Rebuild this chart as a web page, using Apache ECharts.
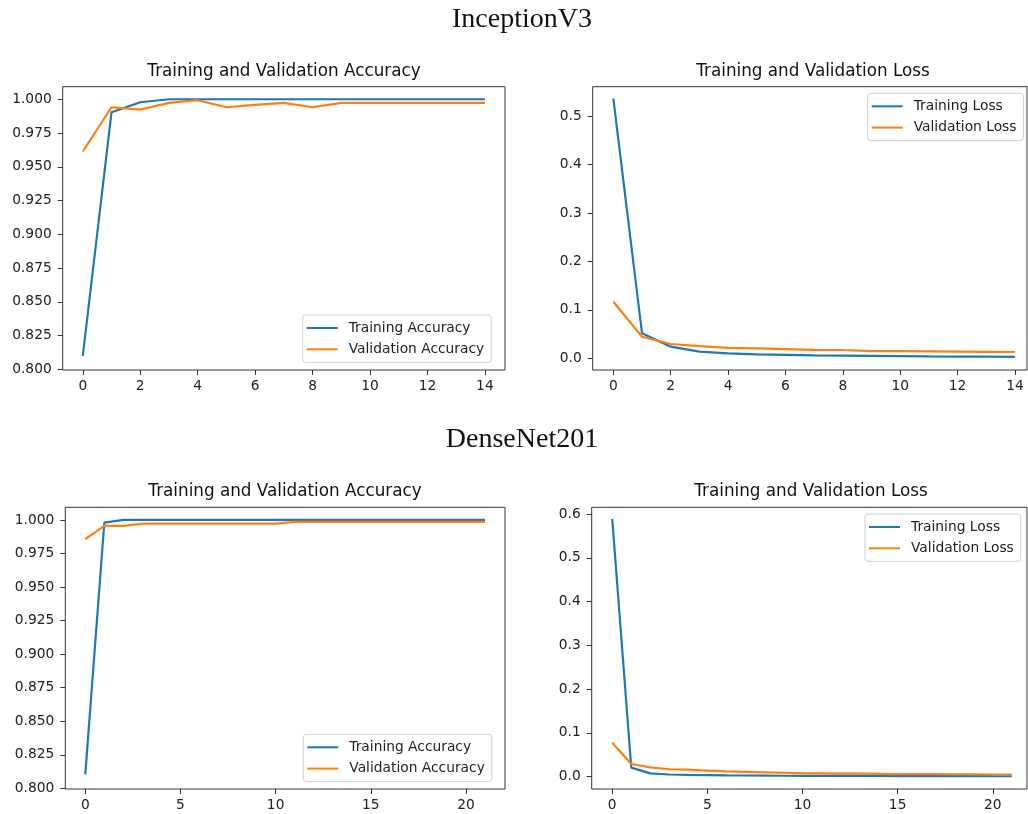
<!DOCTYPE html>
<html>
<head>
<meta charset="utf-8">
<script src="https://cdn.jsdelivr.net/npm/echarts@6/dist/echarts.min.js"></script>
<style>html,body{margin:0;padding:0;background:#fff;}#c{width:1028px;height:814px;}</style>
</head>
<body>
<div id="c"></div>
<script>
// ---- Data ----
const panelTitles = ['InceptionV3', 'DenseNet201'];
const accTitle = 'Training and Validation Accuracy';
const lossTitle = 'Training and Validation Loss';

const incTrainAcc = [0.810, 0.9904, 0.9978, 1.000, 1.000, 1.000, 1.000, 1.000, 1.000, 1.000, 1.000, 1.000, 1.000, 1.000, 1.000];
const incValAcc   = [0.9613, 0.9941, 0.9923, 0.9973, 0.9993, 0.9941, 0.9958, 0.9973, 0.9941, 0.9973, 0.9973, 0.9973, 0.9973, 0.9973, 0.9973];
const incTrainLoss = [0.536, 0.0516, 0.024, 0.0137, 0.0103, 0.008, 0.007, 0.006, 0.0055, 0.005, 0.0045, 0.004, 0.0037, 0.0034, 0.003];
const incValLoss   = [0.1168, 0.0446, 0.0295, 0.025, 0.0216, 0.0205, 0.019, 0.0175, 0.0172, 0.015, 0.015, 0.0145, 0.014, 0.0135, 0.013];

const denTrainAcc = [0.8104, 0.998, 1.000, 1.000, 1.000, 1.000, 1.000, 1.000, 1.000, 1.000, 1.000, 1.000, 1.000, 1.000, 1.000, 1.000, 1.000, 1.000, 1.000, 1.000, 1.000, 1.000];
const denValAcc   = [0.9857, 0.9956, 0.9956, 0.9973, 0.9973, 0.9973, 0.9973, 0.9973, 0.9973, 0.9973, 0.9973, 0.9986, 0.9986, 0.9986, 0.9986, 0.9986, 0.9986, 0.9986, 0.9986, 0.9986, 0.9986, 0.9986];
const denTrainLoss = [0.5886, 0.0206, 0.0076, 0.005, 0.004, 0.0035, 0.003, 0.0027, 0.0025, 0.0022, 0.002, 0.0019, 0.0018, 0.0017, 0.0016, 0.0015, 0.0014, 0.0013, 0.0012, 0.0011, 0.001, 0.001];
const denValLoss   = [0.0777, 0.029, 0.0214, 0.017, 0.016, 0.014, 0.012, 0.011, 0.010, 0.009, 0.008, 0.0075, 0.007, 0.0068, 0.0065, 0.006, 0.006, 0.0058, 0.0055, 0.0055, 0.005, 0.005];

const accTicks = [0.800, 0.825, 0.850, 0.875, 0.900, 0.925, 0.950, 0.975, 1.000];
const incLossTicks = [0.0, 0.1, 0.2, 0.3, 0.4, 0.5];
const denLossTicks = [0.0, 0.1, 0.2, 0.3, 0.4, 0.5, 0.6];
const incEpochTicks = [0, 2, 4, 6, 8, 10, 12, 14];
const denEpochTicks = [0, 5, 10, 15, 20];

// ---- Chart ----
const BLUE = '#1f77b4', ORANGE = '#ff7f0e';
const FONT = 'DejaVu Sans';
const TXT = '#222';
const pts = arr => arr.map((v, i) => [i, v]);

const grids = [
  {left: 62.7, top: 86.7, width: 442.3, height: 283.3},
  {left: 592.7, top: 86.7, width: 434.3, height: 283.3},
  {left: 65.3, top: 507.3, width: 439.7, height: 281.7},
  {left: 591.7, top: 507.3, width: 435.3, height: 281.7}
].map(g => Object.assign(g, {show: true, borderColor: '#333', borderWidth: 1, backgroundColor: 'transparent', containLabel: false}));

function xAxis(idx, min, max, ticks) {
  return {
    type: 'value', gridIndex: idx, min: min, max: max, position: 'bottom',
    axisLine: {show: false, onZero: false},
    splitLine: {show: false},
    axisTick: {show: true, length: 5, lineStyle: {color: '#333', width: 1}, customValues: ticks},
    axisLabel: {customValues: ticks, margin: 9, color: TXT, fontFamily: FONT, fontSize: 13.8, formatter: v => String(v)}
  };
}
function yAxis(idx, min, max, ticks, dec) {
  return {
    type: 'value', gridIndex: idx, min: min, max: max, position: 'left',
    axisLine: {show: false, onZero: false},
    splitLine: {show: false},
    axisTick: {show: true, length: 5, lineStyle: {color: '#333', width: 1}, customValues: ticks},
    axisLabel: {customValues: ticks, margin: 11, color: TXT, fontFamily: FONT, fontSize: 13.8, formatter: v => v.toFixed(dec)}
  };
}
function line(name, idx, data, color) {
  return {
    type: 'line', name: name, xAxisIndex: idx, yAxisIndex: idx,
    data: pts(data), symbol: 'none', showSymbol: false,
    lineStyle: {color: color, width: 2.2}, itemStyle: {color: color},
    emphasis: {disabled: true}, animation: false
  };
}
function legend(names, left, top) {
  return {
    data: names, orient: 'vertical', left: left, top: top,
    icon: 'rect', itemWidth: 31, itemHeight: 2, itemGap: 5.3,
    padding: [5, 7, 5, 4],
    borderColor: '#d0d0d0', borderWidth: 1, borderRadius: 3,
    backgroundColor: 'rgba(255,255,255,0.8)',
    selectedMode: false,
    textStyle: {fontFamily: FONT, fontSize: 13.8, color: TXT, lineHeight: 16, padding: [0, 0, 0, 6]}
  };
}
function txt(str, x, y, size, family) {
  return {type: 'text', x: x, y: y, style: {text: str, fill: '#111', font: size + 'px "' + family + '"', textAlign: 'center', textVerticalAlign: 'middle'}, z: 100};
}

const option = {
  backgroundColor: '#fff',
  animation: false,
  grid: grids,
  xAxis: [
    xAxis(0, -0.7, 14.7, incEpochTicks),
    xAxis(1, -0.72, 14.42, incEpochTicks),
    xAxis(2, -1.05, 22.05, denEpochTicks),
    xAxis(3, -1.08, 21.8, denEpochTicks)
  ],
  yAxis: [
    yAxis(0, 0.7995, 1.0093, accTicks, 3),
    yAxis(1, -0.0241, 0.5605, incLossTicks, 1),
    yAxis(2, 0.7995, 1.0094, accTicks, 3),
    yAxis(3, -0.0281, 0.6153, denLossTicks, 1)
  ],
  legend: [
    legend(['Training Accuracy', 'Validation Accuracy'], 302.7, 315),
    legend(['Training Loss', 'Validation Loss'], 867.7, 93.3),
    legend(['Training Accuracy', 'Validation Accuracy'], 303.3, 734.3),
    legend(['Training Loss', 'Validation Loss'], 865, 514)
  ],
  series: [
    line('Training Accuracy', 0, incTrainAcc, BLUE),
    line('Validation Accuracy', 0, incValAcc, ORANGE),
    line('Training Loss', 1, incTrainLoss, BLUE),
    line('Validation Loss', 1, incValLoss, ORANGE),
    line('Training Accuracy', 2, denTrainAcc, BLUE),
    line('Validation Accuracy', 2, denValAcc, ORANGE),
    line('Training Loss', 3, denTrainLoss, BLUE),
    line('Validation Loss', 3, denValLoss, ORANGE)
  ],
  graphic: [
    txt(panelTitles[0], 522, 20, 28, 'Liberation Serif'),
    txt(panelTitles[1], 522, 440, 28, 'Liberation Serif'),
    txt(accTitle, 284, 72, 16.8, FONT),
    txt(lossTitle, 813, 72, 16.8, FONT),
    txt(accTitle, 285, 492, 16.8, FONT),
    txt(lossTitle, 811, 492, 16.8, FONT)
  ]
};

const chart = echarts.init(document.getElementById('c'), null, {renderer: 'canvas'});
chart.setOption(option);
</script>
</body>
</html>
